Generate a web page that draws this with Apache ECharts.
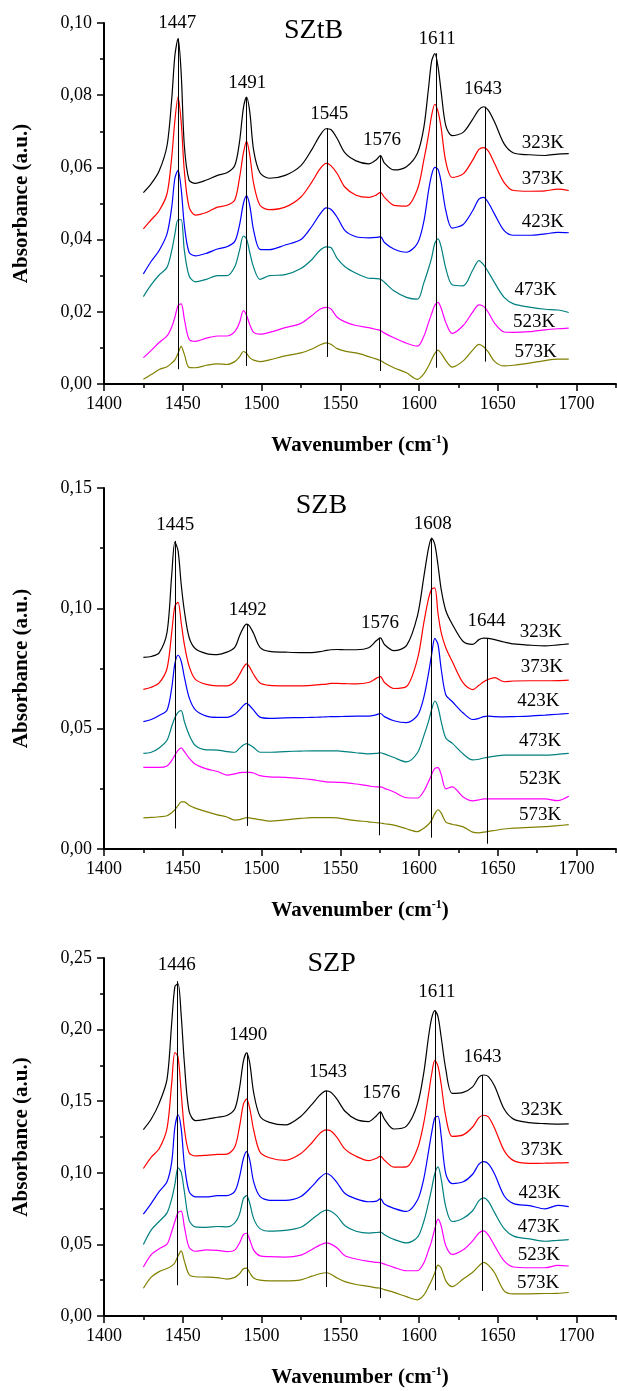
<!DOCTYPE html>
<html><head><meta charset="utf-8">
<script src="https://cdn.jsdelivr.net/npm/echarts@6/dist/echarts.min.js"></script>
<style>html,body{margin:0;padding:0;background:#fff}#c{width:617px;height:1391px}</style>
</head><body><div id="c"></div>
<script>
// ---------- shared ----------
const wavenumbers = [1425,1430,1435,1440,1443,1445,1447,1449,1451,1454,1458,1465,1472,1478,1483,1486,1488.5,1490.5,1492.5,1495,1499,1505,1515,1525,1532,1537,1541,1544,1548,1553,1560,1568,1573,1575.5,1578,1584,1592,1599,1603,1606,1608,1610,1612,1614,1617,1621,1628,1634,1638,1641,1644,1648,1654,1660,1670,1680,1688,1695];
const temperatures = ['323K','373K','423K','473K','523K','573K'];
const lineColors = ['#000000','#ff0000','#0000ff','#008080','#ff00ff','#808000'];
const xTickLabels = [1400,1450,1500,1550,1600,1650,1700];
const xMinorTicks = [1425,1475,1525,1575,1625,1675,1725];

// ---------- SZtB ----------
const SZtB_323 = [0.053,0.0555,0.059,0.066,0.079,0.091,0.0957,0.086,0.066,0.0565,0.0556,0.0565,0.0578,0.0585,0.0605,0.067,0.0765,0.0795,0.0755,0.0647,0.0585,0.057,0.0578,0.0605,0.065,0.0688,0.0707,0.0705,0.068,0.064,0.0618,0.061,0.0622,0.0633,0.0612,0.0593,0.0602,0.064,0.071,0.082,0.0895,0.0915,0.088,0.081,0.0715,0.0688,0.0697,0.0733,0.076,0.0768,0.0758,0.0725,0.0665,0.064,0.0635,0.0633,0.0637,0.0638];
const SZtB_373 = [0.043,0.0455,0.048,0.0527,0.0629,0.073,0.0795,0.0725,0.059,0.049,0.0468,0.0475,0.049,0.0495,0.051,0.057,0.064,0.0673,0.0635,0.0555,0.0495,0.0483,0.049,0.0518,0.056,0.0595,0.0611,0.0605,0.0583,0.0545,0.0523,0.0517,0.0524,0.0531,0.0517,0.0495,0.0493,0.054,0.062,0.069,0.0745,0.0775,0.0755,0.071,0.0615,0.0572,0.0582,0.062,0.065,0.0655,0.0645,0.061,0.0558,0.0536,0.0534,0.0535,0.054,0.0536];
const SZtB_423 = [0.0305,0.034,0.037,0.0416,0.049,0.057,0.0592,0.054,0.044,0.0365,0.0355,0.0362,0.0374,0.038,0.0395,0.044,0.05,0.0521,0.0495,0.0425,0.0373,0.0372,0.0385,0.04,0.0437,0.047,0.0488,0.0484,0.0462,0.0425,0.0408,0.0405,0.0406,0.0408,0.0392,0.0374,0.0365,0.039,0.045,0.0535,0.058,0.06,0.0595,0.056,0.048,0.0432,0.0442,0.048,0.0512,0.0517,0.0502,0.047,0.0425,0.0412,0.0412,0.0416,0.042,0.0419];
const SZtB_473 = [0.0242,0.0275,0.0302,0.0323,0.037,0.0415,0.0455,0.0455,0.037,0.03,0.0283,0.029,0.03,0.03,0.0325,0.037,0.041,0.0402,0.0365,0.0323,0.029,0.03,0.0303,0.032,0.0345,0.037,0.038,0.0378,0.0348,0.0325,0.0307,0.0293,0.0292,0.029,0.0282,0.0258,0.024,0.0235,0.028,0.032,0.035,0.039,0.0402,0.038,0.032,0.0275,0.0272,0.0315,0.0342,0.033,0.031,0.028,0.024,0.0222,0.0213,0.0207,0.0205,0.0198];
const SZtB_523 = [0.0073,0.0093,0.0115,0.0133,0.0158,0.0185,0.0217,0.0222,0.018,0.0124,0.0118,0.0127,0.0133,0.0133,0.0145,0.017,0.0203,0.019,0.0165,0.0143,0.0138,0.0143,0.0156,0.0168,0.019,0.0207,0.0212,0.0208,0.0185,0.0172,0.0162,0.0156,0.0151,0.0148,0.0141,0.0128,0.0113,0.0105,0.0132,0.017,0.0195,0.0218,0.0226,0.021,0.017,0.014,0.0162,0.0199,0.0219,0.0215,0.0198,0.0168,0.0144,0.0143,0.0145,0.015,0.0153,0.0155];
const SZtB_573 = [0.0013,0.0026,0.004,0.0048,0.0058,0.0067,0.0085,0.0104,0.0082,0.0046,0.0045,0.0052,0.0056,0.0054,0.0062,0.0075,0.009,0.0085,0.0073,0.0066,0.0062,0.0067,0.0078,0.0086,0.0097,0.0108,0.0114,0.011,0.0098,0.0091,0.0086,0.0076,0.0069,0.0065,0.0058,0.0045,0.0031,0.0013,0.0028,0.005,0.0068,0.0085,0.0094,0.0085,0.0065,0.0047,0.0064,0.0094,0.011,0.0103,0.0088,0.0062,0.005,0.0052,0.0058,0.0065,0.0069,0.0069];
const SZtB_peakLines = [[1447,0.0957,0.0041],[1490.5,0.0795,0.005],[1542,0.0709,0.0075],[1575.5,0.0633,0.0036],[1611,0.0916,0.0045],[1642,0.0768,0.0062]];
const SZtB_peakLabels = [[1446.5,0.1,'1447'],[1491,0.0833,'1491'],[1543,0.0747,'1545'],[1576.5,0.0675,'1576'],[1611.5,0.0956,'1611'],[1640.5,0.0817,'1643']];
const SZtB_tempLabels = [[1678.5,0.0667],[1678.5,0.0569],[1678.5,0.045],[1674,0.0261],[1673,0.0172],[1674,0.0089]];

// ---------- SZB ----------
const SZB_323 = [0.0796,0.08,0.0815,0.09,0.114,0.1275,0.124,0.11,0.099,0.088,0.0832,0.0812,0.0808,0.0818,0.0838,0.0885,0.092,0.0934,0.0925,0.0895,0.0838,0.0821,0.0818,0.0816,0.0816,0.082,0.0825,0.0828,0.0829,0.0828,0.0828,0.0836,0.0866,0.0877,0.085,0.0824,0.0845,0.097,0.113,0.125,0.1292,0.1265,0.118,0.108,0.099,0.0935,0.0862,0.085,0.087,0.0876,0.0875,0.087,0.086,0.0852,0.0847,0.0844,0.0848,0.0852];
const SZB_373 = [0.0663,0.0672,0.069,0.075,0.09,0.101,0.1025,0.094,0.085,0.076,0.0705,0.0684,0.0678,0.0678,0.0695,0.0725,0.0755,0.0769,0.0755,0.0725,0.069,0.068,0.0678,0.0678,0.068,0.0683,0.0685,0.0688,0.0688,0.0687,0.0686,0.0692,0.071,0.0716,0.0692,0.0667,0.0675,0.079,0.094,0.104,0.108,0.1085,0.098,0.09,0.0835,0.078,0.069,0.0662,0.068,0.0695,0.0705,0.0712,0.0695,0.0698,0.0699,0.0699,0.07,0.0702];
const SZB_423 = [0.0529,0.0538,0.0555,0.0577,0.067,0.077,0.0805,0.078,0.0715,0.063,0.0578,0.0552,0.0547,0.0547,0.056,0.0578,0.0597,0.0605,0.0595,0.0577,0.0548,0.0543,0.0545,0.0546,0.0547,0.0548,0.0549,0.055,0.055,0.0551,0.0552,0.0552,0.0558,0.0563,0.055,0.0533,0.0525,0.0555,0.063,0.073,0.081,0.0875,0.085,0.075,0.064,0.0613,0.0565,0.0538,0.0543,0.055,0.0552,0.055,0.0549,0.055,0.0552,0.0556,0.056,0.0563];
const SZB_473 = [0.0397,0.0402,0.042,0.0452,0.051,0.0545,0.0568,0.0575,0.053,0.0475,0.043,0.0412,0.0411,0.0405,0.0402,0.0418,0.0432,0.0438,0.0432,0.0422,0.0402,0.0402,0.0405,0.0407,0.0408,0.0408,0.0408,0.0408,0.0408,0.0405,0.04,0.0395,0.0397,0.04,0.0395,0.038,0.0362,0.04,0.047,0.053,0.058,0.0615,0.059,0.053,0.046,0.044,0.0395,0.037,0.0373,0.0378,0.0382,0.0386,0.039,0.039,0.039,0.039,0.0393,0.0397];
const SZB_523 = [0.0339,0.0339,0.0339,0.0345,0.0368,0.039,0.041,0.042,0.0405,0.0378,0.0352,0.0333,0.0322,0.0307,0.0312,0.0317,0.0318,0.0318,0.0318,0.0316,0.0305,0.03,0.0298,0.0293,0.0288,0.0283,0.0279,0.0278,0.0277,0.0276,0.027,0.0262,0.0258,0.0258,0.0252,0.0237,0.0213,0.0212,0.024,0.028,0.031,0.0335,0.0338,0.031,0.025,0.0258,0.0216,0.02,0.0204,0.0208,0.0208,0.0208,0.0208,0.0208,0.0208,0.0208,0.0201,0.0219];
const SZB_573 = [0.0129,0.0131,0.0134,0.0138,0.0151,0.0163,0.018,0.0196,0.0196,0.0182,0.017,0.0155,0.0142,0.0133,0.012,0.0122,0.0127,0.013,0.0129,0.0126,0.0122,0.0116,0.0121,0.0127,0.013,0.013,0.013,0.013,0.0129,0.0124,0.0118,0.0113,0.0109,0.0108,0.0105,0.0099,0.0084,0.0072,0.0086,0.0103,0.012,0.0147,0.0163,0.015,0.0112,0.0103,0.0092,0.007,0.0067,0.007,0.0073,0.0077,0.0083,0.0087,0.009,0.0093,0.0097,0.0101];
const SZB_peakLines = [[1445.5,0.128,0.0085],[1490.75,0.0934,0.0096],[1574.75,0.0878,0.0057],[1608,0.1292,0.0047],[1643,0.0876,0.0022]];
const SZB_peakLabels = [[1445.25,0.1347,'1445'],[1491.25,0.0991,'1492'],[1575.25,0.0941,'1576'],[1608.75,0.1351,'1608'],[1642.75,0.0948,'1644']];
const SZB_tempLabels = [[1677.25,0.0903],[1678,0.0755],[1675.75,0.0616],[1676.75,0.045],[1676.75,0.0289],[1676.75,0.014]];

// ---------- SZP ----------
const SZP_323 = [0.1302,0.1376,0.1485,0.1653,0.205,0.23,0.232,0.21,0.177,0.143,0.1365,0.1374,0.1388,0.14,0.1445,0.159,0.178,0.1838,0.1768,0.156,0.1395,0.1352,0.1334,0.1395,0.1478,0.1542,0.1572,0.1562,0.1512,0.143,0.1373,0.1358,0.1399,0.1425,0.1375,0.1306,0.1326,0.148,0.17,0.195,0.208,0.2133,0.209,0.195,0.172,0.1555,0.1562,0.16,0.1668,0.1683,0.1672,0.1605,0.1445,0.1375,0.135,0.1343,0.134,0.1341];
const SZP_373 = [0.103,0.111,0.1168,0.131,0.163,0.184,0.181,0.156,0.131,0.114,0.1118,0.1122,0.1128,0.113,0.118,0.132,0.148,0.1514,0.145,0.13,0.1145,0.1105,0.1087,0.1135,0.121,0.1275,0.13,0.1292,0.1245,0.1165,0.1115,0.1085,0.1102,0.1117,0.1088,0.104,0.1042,0.117,0.135,0.155,0.169,0.1785,0.1745,0.162,0.139,0.1255,0.1265,0.132,0.1385,0.1402,0.139,0.131,0.1155,0.1085,0.1066,0.1067,0.1069,0.1071];
const SZP_423 = [0.0711,0.0787,0.0868,0.0937,0.1076,0.132,0.1405,0.131,0.106,0.087,0.0832,0.0832,0.084,0.084,0.087,0.097,0.11,0.1148,0.109,0.0937,0.0835,0.0808,0.0808,0.0835,0.0905,0.0965,0.0995,0.098,0.093,0.0855,0.0818,0.0798,0.0802,0.082,0.0782,0.0752,0.073,0.081,0.096,0.115,0.128,0.1385,0.1395,0.126,0.099,0.0925,0.0937,0.099,0.106,0.1078,0.1062,0.099,0.084,0.0785,0.0771,0.0748,0.0772,0.0764];
const SZP_473 = [0.0499,0.0602,0.066,0.072,0.082,0.092,0.1035,0.1005,0.087,0.067,0.0622,0.0619,0.0625,0.0622,0.065,0.071,0.082,0.084,0.0787,0.068,0.061,0.0593,0.0598,0.062,0.0675,0.0718,0.074,0.0732,0.0698,0.063,0.0592,0.0579,0.0583,0.0586,0.0568,0.0535,0.051,0.055,0.066,0.079,0.089,0.0995,0.1041,0.096,0.076,0.066,0.0683,0.0735,0.0805,0.0825,0.08,0.072,0.061,0.0558,0.0538,0.0522,0.0528,0.0533];
const SZP_523 = [0.0342,0.0429,0.047,0.0502,0.059,0.066,0.0722,0.0732,0.0625,0.048,0.0452,0.0462,0.0458,0.045,0.046,0.051,0.0568,0.0578,0.0533,0.046,0.042,0.0414,0.0411,0.0425,0.0465,0.0495,0.051,0.0502,0.0475,0.042,0.0398,0.0381,0.0375,0.0372,0.0362,0.034,0.0316,0.0316,0.037,0.046,0.0525,0.061,0.0676,0.063,0.049,0.043,0.0462,0.0525,0.058,0.0595,0.0565,0.049,0.0385,0.0342,0.0337,0.0337,0.0353,0.0349];
const SZP_573 = [0.0194,0.0272,0.031,0.0332,0.035,0.0372,0.042,0.0455,0.0385,0.029,0.0274,0.0272,0.0268,0.0258,0.027,0.0295,0.033,0.0335,0.0302,0.0265,0.025,0.0245,0.0245,0.0252,0.0278,0.0295,0.0302,0.0292,0.0265,0.024,0.022,0.0207,0.0197,0.0194,0.0184,0.0165,0.0135,0.0113,0.0145,0.0205,0.025,0.0302,0.0355,0.0335,0.0245,0.0205,0.0258,0.0305,0.035,0.0374,0.0355,0.03,0.0175,0.0154,0.0155,0.0157,0.0158,0.0164];
const SZP_peakLines = [[1446.25,0.2338,0.0215],[1490.75,0.1838,0.021],[1541.25,0.1572,0.0203],[1575.25,0.1427,0.0125],[1610.5,0.2133,0.018],[1640,0.1683,0.0175]];
const SZP_peakLabels = [[1446.25,0.2454,'1446'],[1491.5,0.196,'1490'],[1542.25,0.1706,'1543'],[1576,0.1554,'1576'],[1611.25,0.2265,'1611'],[1640.25,0.181,'1643']];
const SZP_tempLabels = [[1678,0.1438],[1678,0.1161],[1676.5,0.0861],[1676,0.0619],[1676,0.0425],[1675.5,0.0233]];

// ---------- panels ----------
const panels = [
  {title:'SZtB', titlePos:[1533,0.0978], yMax:0.10, yStep:0.02, curves:[SZtB_323,SZtB_373,SZtB_423,SZtB_473,SZtB_523,SZtB_573], lines:SZtB_peakLines, labels:SZtB_peakLabels, temps:SZtB_tempLabels, top:23},
  {title:'SZB', titlePos:[1538,0.1426], yMax:0.15, yStep:0.05, curves:[SZB_323,SZB_373,SZB_423,SZB_473,SZB_523,SZB_573], lines:SZB_peakLines, labels:SZB_peakLabels, temps:SZB_tempLabels, top:488},
  {title:'SZP', titlePos:[1544.5,0.246], yMax:0.25, yStep:0.05, curves:[SZP_323,SZP_373,SZP_423,SZP_473,SZP_523,SZP_573], lines:SZP_peakLines, labels:SZP_peakLabels, temps:SZP_tempLabels, top:958}
];

const FONT = 'Liberation Serif';
const grids = [], xAxes = [], yAxes = [], series = [];

function textSeries(i, items, size) {
  // items: [[x, y, text], ...] placed through the panel's axes
  return {
    type:'custom', xAxisIndex:i, yAxisIndex:i, silent:true, clip:false, z:10,
    data: items.map(it => [it[0], it[1]]),
    renderItem: (params, api) => {
      const pt = api.coord([api.value(0), api.value(1)]);
      return {type:'text', x:pt[0], y:pt[1], style:{text:items[params.dataIndex][2], fill:'#000',
        font:size + 'px "' + FONT + '"', align:'center', verticalAlign:'middle'}};
    }
  };
}

panels.forEach((p, i) => {
  grids.push({left:104, top:p.top, width:512, height:361});
  xAxes.push({
    type:'value', gridIndex:i, min:1400, max:1725, interval:50,
    axisLine:{show:true, onZero:false, lineStyle:{color:'#000', width:2}},
    axisTick:{show:true, inside:false, length:7, lineStyle:{color:'#000', width:1.5}, customValues:xTickLabels},
    axisLabel:{customValues:xTickLabels, color:'#000', fontFamily:FONT, fontSize:18, margin:11, formatter:v => String(v)},
    splitLine:{show:false},
    name:'Wavenumber (cm{s|-1})', nameLocation:'middle', nameGap:50,
    nameTextStyle:{color:'#000', fontFamily:FONT, fontWeight:'bold', fontSize:21, lineHeight:24,
      rich:{s:{fontFamily:FONT, fontWeight:'bold', fontSize:12, verticalAlign:'top', lineHeight:24, padding:[0,0,10,0]}}}
  });
  yAxes.push({
    type:'value', gridIndex:i, min:0, max:p.yMax, interval:p.yStep,
    axisLine:{show:true, onZero:false, lineStyle:{color:'#000', width:2}},
    axisTick:{show:true, inside:false, length:7, lineStyle:{color:'#000', width:1.5}},
    minorTick:{show:true, splitNumber:2, length:4, lineStyle:{color:'#000', width:1.5}},
    axisLabel:{color:'#000', fontFamily:FONT, fontSize:18, margin:12, formatter:v => v.toFixed(2).replace('.', ',')},
    splitLine:{show:false},
    name:'Absorbance (a.u.)', nameLocation:'middle', nameGap:72, nameRotate:90,
    nameTextStyle:{color:'#000', fontFamily:FONT, fontWeight:'bold', fontSize:21}
  });
  p.curves.forEach((ys, k) => {
    const s = {
      type:'line', name:p.title + ' ' + temperatures[k], xAxisIndex:i, yAxisIndex:i,
      data: wavenumbers.map((w, j) => [w, ys[j]]),
      showSymbol:false, smooth:0.3, lineStyle:{color:lineColors[k], width:1.2}, itemStyle:{color:lineColors[k]},
      silent:true, z:3
    };
    if (k === 0) {
      s.markLine = {
        silent:true, symbol:['none','none'], label:{show:false},
        lineStyle:{color:'#000', width:1, type:'solid'},
        data: p.lines.map(([x, a, b]) => [{coord:[x, a]}, {coord:[x, b]}])
      };
    }
    series.push(s);
  });
  series.push(textSeries(i, p.labels, 19));
  series.push(textSeries(i, p.temps.map((t, k) => [t[0], t[1], temperatures[k]]), 19));
  series.push(textSeries(i, [[p.titlePos[0], p.titlePos[1], p.title]], 28));
});
// minor x ticks (overlay axes on each grid)
panels.forEach((p, i) => {
  xAxes.push({
    type:'value', gridIndex:i, min:1400, max:1725, interval:25, position:'bottom', offset:0,
    axisLine:{show:true, onZero:false, lineStyle:{color:'#000', width:2, opacity:0}},
    axisLabel:{show:false}, splitLine:{show:false},
    axisTick:{show:true, inside:false, length:4, customValues:xMinorTicks, lineStyle:{color:'#000', width:1.5}}
  });
});

const chart = echarts.init(document.getElementById('c'), null, {renderer:'canvas'});
chart.setOption({animation:false, backgroundColor:'#fff', grid:grids, xAxis:xAxes, yAxis:yAxes, series:series});
</script></body></html>
